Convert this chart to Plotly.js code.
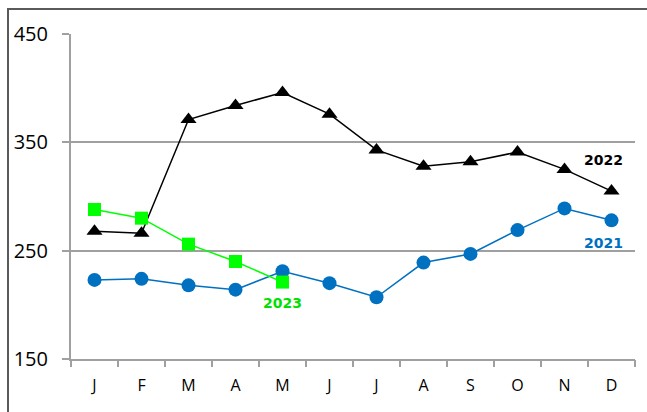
<!DOCTYPE html>
<html>
<head>
<meta charset="utf-8">
<script src="https://cdn.plot.ly/plotly-3.0.1.min.js"></script>
<style>
  html, body { margin: 0; padding: 0; background: #ffffff; overflow: hidden; }
  #frame { position: absolute; left: 7px; top: 8px; width: 700px; height: 500px; border: 2px solid #5a5a5a; box-sizing: border-box; }
  #chart { position: absolute; left: 0; top: 0; width: 647px; height: 412px; }
</style>
</head>
<body>
<div id="frame"></div>
<div id="chart"></div>
<script>
const months = ["J", "F", "M", "A", "M", "J", "J", "A", "S", "O", "N", "D"];
const values2021 = [223, 224, 218, 214, 231, 220, 207, 239, 247, 269, 289, 278];
const values2022 = [268, 266, 371, 384, 396, 376, 343, 328, 332, 341, 325, 305];
const values2023 = [288, 280, 256, 240, 221];
const yTicks = [150, 250, 350, 450];

const xIdx = months.map((m, i) => i);

const traces = [
  {
    x: xIdx, y: values2021, type: "scatter", mode: "lines+markers", name: "2021",
    line: { color: "#0070c0", width: 1.5 },
    marker: { symbol: "circle", size: 14, color: "#0070c0" }
  },
  {
    x: xIdx, y: values2022, type: "scatter", mode: "lines+markers", name: "2022",
    line: { color: "#000000", width: 1.5 },
    marker: { symbol: "triangle-up", size: 14, color: "#000000" }
  },
  {
    x: xIdx.slice(0, values2023.length), y: values2023, type: "scatter", mode: "lines+markers", name: "2023",
    line: { color: "#00ff00", width: 1.5 },
    marker: { symbol: "square", size: 13, color: "#00ff00" }
  }
];

const labelFont = { family: "DejaVu Sans", size: 14, weight: "bold" };

const layout = {
  width: 647, height: 412,
  margin: { l: 71, r: 12, t: 34, b: 53 },
  paper_bgcolor: "rgba(0,0,0,0)",
  plot_bgcolor: "rgba(0,0,0,0)",
  showlegend: false,
  xaxis: {
    type: "linear",
    range: [-0.5, 11.5],
    tickmode: "array",
    tickvals: xIdx,
    ticktext: months,
    showgrid: false,
    zeroline: false,
    showline: true, linecolor: "#a0a0a0", linewidth: 2,
    ticks: "",
    tickfont: { family: "Open Sans", size: 16, color: "#000000" },
    ticklabelstandoff: 11
  },
  xaxis2: {
    overlaying: "x",
    range: [-0.5, 11.5],
    tickmode: "array",
    tickvals: [-0.5, 0.5, 1.5, 2.5, 3.5, 4.5, 5.5, 6.5, 7.5, 8.5, 9.5, 10.5, 11.5],
    showticklabels: false,
    showgrid: false, zeroline: false,
    ticks: "outside", ticklen: 7, tickwidth: 2, tickcolor: "#a0a0a0",
    anchor: "y"
  },
  yaxis: {
    range: [150, 450],
    tickmode: "array",
    tickvals: yTicks,
    ticktext: yTicks.map(String),
    showgrid: true, gridcolor: "#a0a0a0", gridwidth: 2,
    zeroline: false,
    showline: true, linecolor: "#a0a0a0", linewidth: 2,
    ticks: "outside", ticklen: 7, tickwidth: 2, tickcolor: "#a0a0a0",
    tickfont: { family: "Open Sans", size: 20, color: "#000000" },
    ticklabelstandoff: 10
  },
  annotations: [
    { x: 4.0, y: 201.5, xref: "x", yref: "y", text: "2023", showarrow: false,
      font: Object.assign({ color: "#00e000" }, labelFont) },
    { x: 10.82, y: 333.5, xref: "x", yref: "y", text: "2022", showarrow: false,
      font: Object.assign({ color: "#000000" }, labelFont) },
    { x: 10.82, y: 257.2, xref: "x", yref: "y", text: "2021", showarrow: false,
      font: Object.assign({ color: "#0070c0" }, labelFont) }
  ]
};

// invisible trace that activates the boundary-tick axis
traces.unshift({ x: [-0.5], y: [150], xaxis: "x2", yaxis: "y", mode: "markers",
  marker: { opacity: 0 }, hoverinfo: "skip", showlegend: false });

Plotly.newPlot("chart", traces, layout, { staticPlot: true, displayModeBar: false });
</script>
</body>
</html>
